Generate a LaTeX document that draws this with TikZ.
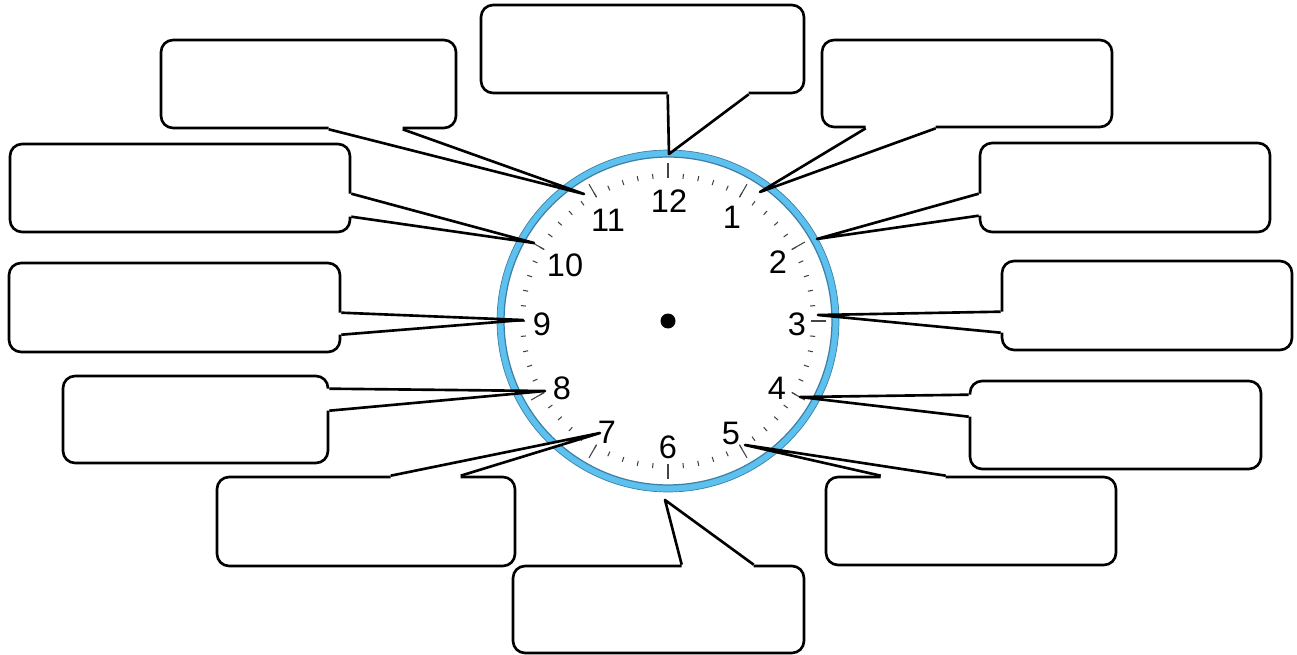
\documentclass[tikz,border=0pt]{standalone}
\usepackage{fontspec}
\setmainfont{Liberation Sans}
\usetikzlibrary{calc}
\definecolor{ringblue}{HTML}{5CC1EF}
\definecolor{ringedge}{HTML}{3E7FA3}
\definecolor{tickgray}{HTML}{444444}
% white wedge between two base points on a box edge and a tip; #4 steps into the box
\newcommand{\calloutwedge}[4]{%
  \fill[white] (#1) -- (#3) -- (#2) -- ($(#2)+(#4)$) -- ($(#1)+(#4)$) -- cycle;
  \draw[pointer] (#1) -- (#3) -- (#2);}

\begin{document}
\begin{tikzpicture}[x=0.02cm,y=-0.02cm,
  bubble/.style={draw,line width=1.5pt,rounded corners=0.24cm,fill=white,inner sep=0pt},
  pointer/.style={line width=1.5pt,line join=round},
  hour/.style={font=\fontsize{18.5}{20}\selectfont,inner sep=0pt}]
\useasboundingbox (0,0) rectangle (1297,655);

% clock
\coordinate (c) at (668,321);
\fill[ringblue] (c) circle (3.42cm);
\draw[ringedge,line width=0.4pt] (c) circle (3.42cm);
\filldraw[fill=white,draw=ringedge,line width=0.7pt] (c) circle (3.28cm);
\begin{scope}[shift={(c)}]
  \foreach \m in {0,...,59}
    \draw[tickgray,line width=0.6pt] (\m*6:143) -- (\m*6:148);
  \foreach \h in {0,...,11}
    \draw[tickgray,line width=0.6pt] (\h*30:143) -- (\h*30:158);
\end{scope}
\foreach \n/\px/\py in {12/669/201,1/732/217,2/778/262,3/797/324,4/777/388,5/731/433,
    6/668/447,7/607/432,8/562/388,9/542/324,10/565/265,11/608/220}
  \node[hour] (n\n) at (\px,\py) {\n};
\node[circle,fill=black,minimum size=0.3cm,inner sep=0pt] (hub) at (c) {};

% top row
\node[bubble,minimum width=6.46cm,minimum height=1.76cm] (b12) at (642.5,49) {};
\coordinate (t12) at (669,154);
\coordinate (b12l) at ($(b12.south west)+(188,0)$);
\coordinate (b12r) at ($(b12.south west)+(269,0)$);
\calloutwedge{b12l}{b12r}{t12}{0,-4}

\node[bubble,minimum width=5.90cm,minimum height=1.76cm] (b11) at (308.5,84) {};
\coordinate (t11) at (584,194);
\coordinate (b11l) at ($(b11.south west)+(169,0)$);
\coordinate (b11r) at ($(b11.south west)+(243,0)$);
\calloutwedge{b11l}{b11r}{t11}{0,-4}

\node[bubble,minimum width=5.80cm,minimum height=1.74cm] (b1) at (967,83.5) {};
\coordinate (t1) at (760,192);
\coordinate (b1l) at ($(b1.south west)+(45,0)$);
\coordinate (b1r) at ($(b1.south west)+(115,0)$);
\calloutwedge{b1l}{b1r}{t1}{0,-4}

% left column
\node[bubble,minimum width=6.80cm,minimum height=1.76cm] (b10) at (180,188) {};
\coordinate (t10) at (534,243);
\coordinate (b10u) at ($(b10.north east)+(0,51)$);
\coordinate (b10d) at ($(b10.north east)+(0,74)$);
\calloutwedge{b10u}{b10d}{t10}{-4,0}

\node[bubble,minimum width=6.62cm,minimum height=1.78cm] (b9) at (174.5,307.5) {};
\coordinate (t9) at (523,320);
\coordinate (b9u) at ($(b9.north east)+(0,51)$);
\coordinate (b9d) at ($(b9.north east)+(0,73)$);
\calloutwedge{b9u}{b9d}{t9}{-4,0}

\node[bubble,minimum width=5.30cm,minimum height=1.74cm] (b8) at (195.5,419.5) {};
\coordinate (t8) at (545,391);
\coordinate (b8u) at ($(b8.north east)+(0,14)$);
\coordinate (b8d) at ($(b8.north east)+(0,36)$);
\calloutwedge{b8u}{b8d}{t8}{-4,0}

% bottom row
\node[bubble,minimum width=5.96cm,minimum height=1.78cm] (b7) at (366,521.5) {};
\coordinate (t7) at (600,433);
\coordinate (b7l) at ($(b7.north west)+(175,0)$);
\coordinate (b7r) at ($(b7.north west)+(245,0)$);
\calloutwedge{b7l}{b7r}{t7}{0,4}

\node[bubble,minimum width=5.82cm,minimum height=1.74cm] (b6) at (658.5,609.5) {};
\coordinate (t6) at (665,500);
\coordinate (b6l) at ($(b6.north west)+(170,0)$);
\coordinate (b6r) at ($(b6.north west)+(242,0)$);
\calloutwedge{b6l}{b6r}{t6}{0,4}

\node[bubble,minimum width=5.80cm,minimum height=1.76cm] (b5) at (971,521) {};
\coordinate (t5) at (745,445);
\coordinate (b5l) at ($(b5.north west)+(56,0)$);
\coordinate (b5r) at ($(b5.north west)+(121,0)$);
\calloutwedge{b5l}{b5r}{t5}{0,4}

% right column
\node[bubble,minimum width=5.82cm,minimum height=1.76cm] (b4) at (1115.5,425) {};
\coordinate (t4) at (800,397);
\coordinate (b4u) at ($(b4.north west)+(0,15)$);
\coordinate (b4d) at ($(b4.north west)+(0,37)$);
\calloutwedge{b4u}{b4d}{t4}{4,0}

\node[bubble,minimum width=5.80cm,minimum height=1.78cm] (b3) at (1147,305.5) {};
\coordinate (t3) at (818,315);
\coordinate (b3u) at ($(b3.north west)+(0,52)$);
\coordinate (b3d) at ($(b3.north west)+(0,73)$);
\calloutwedge{b3u}{b3d}{t3}{4,0}

\node[bubble,minimum width=5.80cm,minimum height=1.78cm] (b2) at (1125,187.5) {};
\coordinate (t2) at (817,239);
\coordinate (b2u) at ($(b2.north west)+(0,52)$);
\coordinate (b2d) at ($(b2.north west)+(0,74)$);
\calloutwedge{b2u}{b2d}{t2}{4,0}
\end{tikzpicture}
\end{document}
